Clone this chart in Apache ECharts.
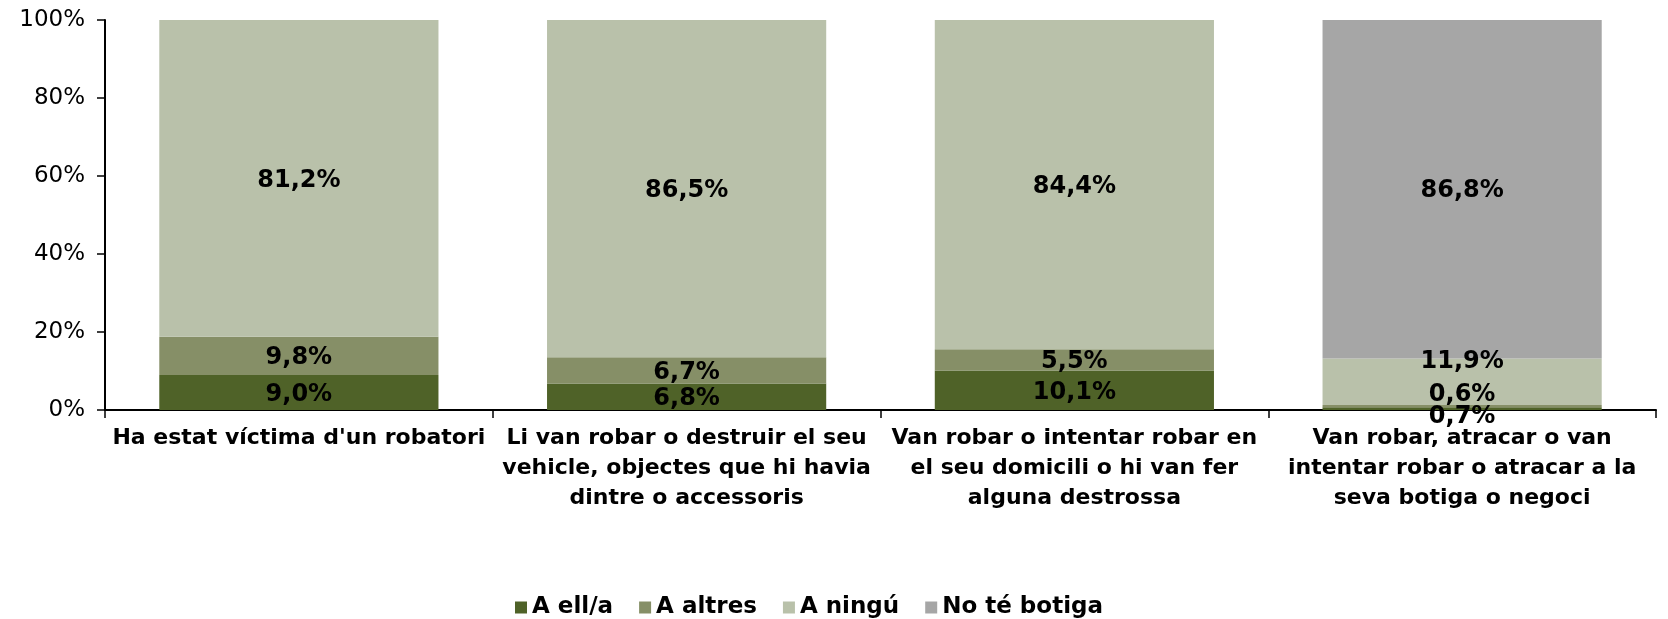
<!DOCTYPE html>
<html>
<head>
<meta charset="utf-8">
<script src="https://cdn.jsdelivr.net/npm/echarts@6/dist/echarts.min.js"></script>
<style>
    html, body { margin: 0; padding: 0; background: #fff; }
    #chart { width: 1668px; height: 619px; }
</style>
</head>
<body>
<div id="chart"></div>
<script>
var categories = [
    "Ha estat víctima d'un robatori",
    "Li van robar o destruir el seu\nvehicle, objectes que hi havia\ndintre o accessoris",
    "Van robar o intentar robar en\nel seu domicili o hi van fer\nalguna destrossa",
    "Van robar, atracar o van\nintentar robar o atracar a la\nseva botiga o negoci"
];
var seriesNames = ['A ell/a', 'A altres', 'A ningú', 'No té botiga'];
var aEll = [9.0, 6.8, 10.1, 0.7];
var aAltres = [9.8, 6.7, 5.5, 0.6];
var aNingu = [81.2, 86.5, 84.4, 11.9];
var noBotiga = [0, 0, 0, 86.8];
var yTicks = [0, 20, 40, 60, 80, 100];

var colors = ['#4f6228', '#868f67', '#b9c1aa', '#a6a6a6'];
var font = 'DejaVu Sans';

// excel moves the labels of the small slices in the last bar to avoid overlap
var lastBarOffsets = [8, -11, -20, 2];

function fmt(v) {
    return v.toFixed(1).replace('.', ',') + '%';
}

var chart = echarts.init(document.getElementById('chart'));

var series = [aEll, aAltres, aNingu, noBotiga].map(function (values, s) {
    return {
        name: seriesNames[s],
        type: 'bar',
        stack: 'total',
        barCategoryGap: '28%',
        itemStyle: { color: colors[s] },
        label: {
            show: true,
            position: 'inside',
            color: '#000',
            fontFamily: font,
            fontWeight: 'bold',
            fontSize: 24,
            offset: [0, 2],
            formatter: function (p) { return p.value ? fmt(p.value) : ''; }
        },
        data: values.map(function (v, i) {
            if (i === values.length - 1) {
                return { value: v, label: { offset: [0, lastBarOffsets[s]] } };
            }
            return v;
        })
    };
});

chart.setOption({
    animation: false,
    textStyle: { fontFamily: font },
    grid: { left: 105, right: 12, top: 20, bottom: 209 },
    legend: {
        top: 591,
        left: 510,
        itemWidth: 12,
        itemHeight: 12,
        itemGap: 26,
        icon: 'rect',
        textStyle: { fontFamily: font, fontWeight: 'bold', fontSize: 23, color: '#000' },
        data: seriesNames
    },
    xAxis: {
        type: 'category',
        data: categories,
        axisLine: { lineStyle: { color: '#000', width: 2 } },
        axisTick: { show: true, length: 8, lineStyle: { color: '#000', width: 1.5 } },
        axisLabel: {
            interval: 0,
            margin: 13,
            color: '#000',
            fontFamily: font,
            fontWeight: 'bold',
            fontSize: 22,
            lineHeight: 30
        }
    },
    yAxis: {
        type: 'value',
        min: yTicks[0],
        max: yTicks[yTicks.length - 1],
        interval: 20,
        splitLine: { show: false },
        axisLine: { show: true, lineStyle: { color: '#000', width: 2 } },
        axisTick: { show: true, length: 8, lineStyle: { color: '#000', width: 1.5 } },
        axisLabel: {
            margin: 20,
            color: '#000',
            fontFamily: font,
            fontSize: 23,
            formatter: '{value}%'
        }
    },
    series: series
});
</script>
</body>
</html>
